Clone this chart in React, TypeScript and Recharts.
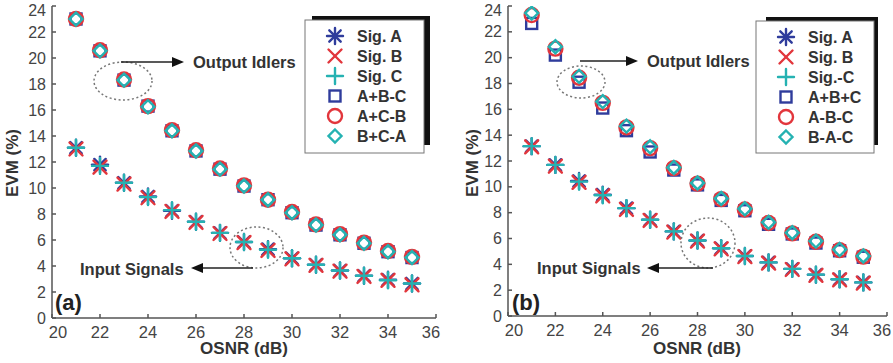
import React from 'react';
import { ScatterChart, Scatter, XAxis, YAxis } from 'recharts';

// ---------- data ----------
const osnr = [21, 22, 23, 24, 25, 26, 27, 28, 29, 30, 31, 32, 33, 34, 35];
const xTicks = [20, 22, 24, 26, 28, 30, 32, 34, 36];
const yTicks = [0, 2, 4, 6, 8, 10, 12, 14, 16, 18, 20, 22, 24];

// panel (a)
const aSigA = [13.1, 11.8, 10.4, 9.35, 8.25, 7.4, 6.55, 5.85, 5.3, 4.6, 4.1, 3.65, 3.25, 2.95, 2.65];
const aSigB = [13.0, 11.6, 10.3, 9.25, 8.2, 7.35, 6.5, 5.8, 5.2, 4.55, 4.05, 3.6, 3.2, 2.9, 2.55];
const aSigC = [13.1, 11.7, 10.4, 9.3, 8.3, 7.4, 6.55, 5.85, 5.25, 4.6, 4.1, 3.65, 3.25, 2.9, 2.65];
const aABmC = [23.0, 20.55, 18.3, 16.3, 14.4, 12.85, 11.45, 10.15, 9.1, 8.1, 7.15, 6.4, 5.75, 5.1, 4.65];
const aACmB = [23.0, 20.6, 18.35, 16.3, 14.45, 12.9, 11.5, 10.2, 9.1, 8.15, 7.2, 6.45, 5.8, 5.15, 4.7];
const aBCmA = [23.0, 20.55, 18.3, 16.25, 14.4, 12.85, 11.45, 10.15, 9.1, 8.1, 7.15, 6.4, 5.75, 5.1, 4.65];

// panel (b)
const bSigA = [13.15, 11.7, 10.45, 9.4, 8.35, 7.45, 6.55, 5.85, 5.25, 4.65, 4.15, 3.65, 3.2, 2.85, 2.6];
const bSigB = [13.1, 11.6, 10.35, 9.3, 8.25, 7.4, 6.5, 5.8, 5.2, 4.6, 4.1, 3.6, 3.15, 2.8, 2.55];
const bSigC = [13.15, 11.7, 10.4, 9.35, 8.35, 7.45, 6.55, 5.85, 5.25, 4.65, 4.15, 3.65, 3.2, 2.85, 2.6];
const bABC = [22.65, 20.2, 18.1, 16.1, 14.35, 12.7, 11.3, 10.15, 8.95, 8.15, 7.1, 6.35, 5.65, 5.05, 4.55];
const bAmBmC = [23.3, 20.7, 18.45, 16.5, 14.6, 13.0, 11.45, 10.25, 9.05, 8.25, 7.2, 6.4, 5.75, 5.1, 4.6];
const bBmAmC = [23.45, 20.85, 18.55, 16.6, 14.7, 13.1, 11.5, 10.3, 9.1, 8.3, 7.25, 6.45, 5.8, 5.15, 4.65];

const legendA = ['Sig. A', 'Sig. B', 'Sig. C', 'A+B-C', 'A+C-B', 'B+C-A'];
const legendB = ['Sig. A', 'Sig. B', 'Sig.-C', 'A+B+C', 'A-B-C', 'B-A-C'];

// ---------- styles ----------
const BLUE = '#2f3c9c';
const RED = '#e2363c';
const CYAN = '#25b2b2';
const FONT = '"Liberation Sans", Arial, sans-serif';
const AXIS = '#555';

type MarkerKind = 'star' | 'x' | 'plus' | 'square' | 'circle' | 'diamond';

const Marker = ({ kind, cx, cy, color }: { kind: MarkerKind; cx: number; cy: number; color: string }) => {
  const sw = 2.4;
  if (kind === 'star') {
    const r = 8, d = 5.7;
    return (
      <g stroke={color} strokeWidth={sw} strokeLinecap="round">
        <line x1={cx - r} y1={cy} x2={cx + r} y2={cy} />
        <line x1={cx} y1={cy - r} x2={cx} y2={cy + r} />
        <line x1={cx - d} y1={cy - d} x2={cx + d} y2={cy + d} />
        <line x1={cx - d} y1={cy + d} x2={cx + d} y2={cy - d} />
      </g>
    );
  }
  if (kind === 'x') {
    const d = 6.5;
    return (
      <g stroke={color} strokeWidth={sw} strokeLinecap="round">
        <line x1={cx - d} y1={cy - d} x2={cx + d} y2={cy + d} />
        <line x1={cx - d} y1={cy + d} x2={cx + d} y2={cy - d} />
      </g>
    );
  }
  if (kind === 'plus') {
    const r = 8;
    return (
      <g stroke={color} strokeWidth={sw} strokeLinecap="round">
        <line x1={cx - r} y1={cy} x2={cx + r} y2={cy} />
        <line x1={cx} y1={cy - r} x2={cx} y2={cy + r} />
      </g>
    );
  }
  if (kind === 'square') {
    const h = 5.5;
    return <rect x={cx - h} y={cy - h} width={2 * h} height={2 * h} fill="none" stroke={color} strokeWidth={sw} />;
  }
  if (kind === 'circle') {
    return <circle cx={cx} cy={cy} r={7} fill="none" stroke={color} strokeWidth={sw} />;
  }
  const r = 6.5;
  return (
    <polygon
      points={`${cx},${cy - r} ${cx + r},${cy} ${cx},${cy + r} ${cx - r},${cy}`}
      fill="none"
      stroke={color}
      strokeWidth={sw}
    />
  );
};

const kinds: MarkerKind[] = ['star', 'x', 'plus', 'square', 'circle', 'diamond'];
const colors = [BLUE, RED, CYAN, BLUE, RED, CYAN];

const toPts = (ys: number[]) => osnr.map((x, i) => ({ x, y: ys[i] }));

const YTick = (props: any) => {
  const { x, y, payload } = props;
  const dy = payload.value === 24 ? 4 : 0;
  return (
    <text x={x} y={y + dy} dy="0.35em" textAnchor="end" fill="#444" fontSize={16} fontFamily={FONT}>
      {payload.value}
    </text>
  );
};

const XTick = (props: any) => {
  const { x, y, payload } = props;
  const v = payload.value;
  const dx = v === 20 ? 6 : v === 36 ? -5 : 0;
  return (
    <text x={x + dx} y={y} dy="0.71em" textAnchor="middle" fill="#444" fontSize={16.5} fontFamily={FONT}>
      {v}
    </text>
  );
};

type PanelProps = {
  series: number[][];
  names: string[];
  left: number;
  width: number;
  margin: { top: number; right: number; bottom: number; left: number };
};

const Panel = ({ series, names, left, width, margin }: PanelProps) => (
  <div style={{ position: 'absolute', left, top: 0 }}>
    <ScatterChart width={width} height={363} margin={margin}>
      <XAxis
        xAxisId="b"
        dataKey="x"
        type="number"
        domain={[20, 36]}
        ticks={xTicks}
        interval={0}
        height={30}
        tickSize={-4}
        tickMargin={12}
        tick={<XTick />}
        stroke={AXIS}
        strokeWidth={1.5}
        allowDataOverflow
      />
      <XAxis
        xAxisId="t"
        orientation="top"
        type="number"
        domain={[20, 36]}
        ticks={xTicks}
        interval={0}
        height={0}
        tickSize={-4}
        tick={false}
        stroke={AXIS}
        strokeWidth={1.5}
        allowDataOverflow
      />
      <YAxis
        yAxisId="l"
        dataKey="y"
        type="number"
        domain={[0, 24]}
        ticks={yTicks}
        interval={0}
        width={30}
        tickSize={-4}
        tickMargin={10}
        tick={<YTick />}
        stroke={AXIS}
        strokeWidth={1.5}
        allowDataOverflow
      />
      <YAxis
        yAxisId="r"
        orientation="right"
        type="number"
        domain={[0, 24]}
        ticks={yTicks}
        interval={0}
        width={0}
        tickSize={-4}
        tick={false}
        stroke={AXIS}
        strokeWidth={1.5}
        allowDataOverflow
      />
      {series.map((ys, i) => (
        <Scatter
          key={names[i]}
          name={names[i]}
          xAxisId="b"
          yAxisId="l"
          data={toPts(ys)}
          isAnimationActive={false}
          shape={(p: any) => <Marker kind={kinds[i]} cx={p.cx} cy={p.cy} color={colors[i]} />}
        />
      ))}
    </ScatterChart>
  </div>
);

const LegendBox = ({ x, y, w, h, names, sx, sy, sw, sh }: any) => (
  <g>
    <rect x={sx} y={sy} width={sw} height={sh} fill="#111" />
    <rect x={x} y={y} width={w} height={h} fill="#fff" stroke="#777" strokeWidth={1} />
    {names.map((n: string, i: number) => {
      const cy = y + 16 + i * 20;
      return (
        <g key={n}>
          <Marker kind={kinds[i]} cx={x + 30} cy={cy} color={colors[i]} />
          <text x={x + 52} y={cy} dy="0.35em" fontSize={16} fontWeight="bold" fill="#333" fontFamily={FONT}>
            {n}
          </text>
        </g>
      );
    })}
  </g>
);

const ArrowRight = ({ x1, x2, y }: { x1: number; x2: number; y: number }) => (
  <g>
    <line x1={x1} y1={y} x2={x2 - 10} y2={y} stroke="#222" strokeWidth={1.6} />
    <polygon points={`${x2},${y} ${x2 - 12},${y - 5} ${x2 - 12},${y + 5}`} fill="#111" />
  </g>
);
const ArrowLeft = ({ x1, x2, y }: { x1: number; x2: number; y: number }) => (
  <g>
    <line x1={x1 + 10} y1={y} x2={x2} y2={y} stroke="#222" strokeWidth={1.6} />
    <polygon points={`${x1},${y} ${x1 + 12},${y - 5} ${x1 + 12},${y + 5}`} fill="#111" />
  </g>
);

const txt = { fontFamily: FONT, fontWeight: 'bold' as const, fill: '#333' };

export default function App() {
  return (
    <div style={{ position: 'absolute', left: 0, top: 0, width: 893, height: 363, background: '#fff', overflow: 'hidden' }}>
      <Panel
        series={[aSigA, aSigB, aSigC, aABmC, aACmB, aBCmA]}
        names={legendA}
        left={0}
        width={445}
        margin={{ top: 6, right: 9, bottom: 15, left: 22 }}
      />
      <Panel
        series={[bSigA, bSigB, bSigC, bABC, bAmBmC, bBmAmC]}
        names={legendB}
        left={450}
        width={443}
        margin={{ top: 6, right: 6, bottom: 17, left: 28 }}
      />
      <svg width={893} height={363} style={{ position: 'absolute', left: 0, top: 0, pointerEvents: 'none' }}>
        {/* panel (a) */}
        <LegendBox x={305} y={20} w={119} h={133} names={legendA} sx={312} sy={16} sw={118} sh={129} />
        <ellipse cx={123} cy={81} rx={29} ry={19} fill="none" stroke="#777" strokeWidth={1.5} strokeDasharray="2 2.5" />
        <ArrowRight x1={121} x2={184} y={62} />
        <text x={193} y={62} dy="0.35em" fontSize={16.5} {...txt}>Output Idlers</text>
        <ellipse cx={256.5} cy={247.5} rx={26.5} ry={20.5} fill="none" stroke="#777" strokeWidth={1.5} strokeDasharray="2 2.5" />
        <ArrowLeft x1={191} x2={253} y={268} />
        <text x={80} y={269} dy="0.35em" fontSize={16.5} {...txt}>Input Signals</text>
        <text x={55} y={302} dy="0.35em" fontSize={22} fontFamily={FONT} fontWeight="bold" fill="#222">(a)</text>
        <text x={244} y={348} dy="0.35em" textAnchor="middle" fontSize={17} {...txt}>OSNR (dB)</text>
        <text transform="translate(12,163) rotate(-90)" dy="0.35em" textAnchor="middle" fontSize={17} {...txt}>EVM (%)</text>

        {/* panel (b) */}
        <LegendBox x={756} y={21} w={118} h={132} names={legendB} sx={766} sy={17} sw={112} sh={128} />
        <ellipse cx={581} cy={82} rx={24} ry={16} fill="none" stroke="#777" strokeWidth={1.5} strokeDasharray="2 2.5" />
        <ArrowRight x1={580} x2={638} y={61} />
        <text x={647} y={61} dy="0.35em" fontSize={16.5} {...txt}>Output Idlers</text>
        <ellipse cx={708} cy={243} rx={27} ry={25} fill="none" stroke="#777" strokeWidth={1.5} strokeDasharray="2 2.5" />
        <ArrowLeft x1={647} x2={713} y={268} />
        <text x={537} y={268} dy="0.35em" fontSize={16.5} {...txt}>Input Signals</text>
        <text x={512} y={302} dy="0.35em" fontSize={22} fontFamily={FONT} fontWeight="bold" fill="#222">(b)</text>
        <text x={697} y={348} dy="0.35em" textAnchor="middle" fontSize={17} {...txt}>OSNR (dB)</text>
        <text transform="translate(472,163) rotate(-90)" dy="0.35em" textAnchor="middle" fontSize={17} {...txt}>EVM (%)</text>
      </svg>
    </div>
  );
}
